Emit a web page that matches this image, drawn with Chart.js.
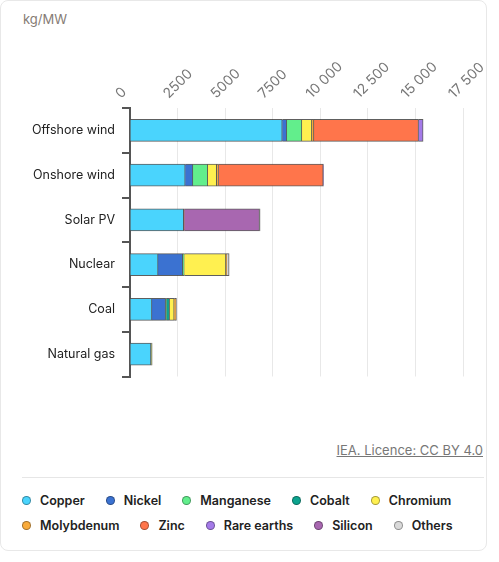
<!DOCTYPE html>
<html>
<head>
<meta charset="utf-8">
<script src="https://cdn.jsdelivr.net/npm/chart.js@4"></script>
<style>
  body { margin: 0; background: #fff; font-family: Inter, "Noto Sans", sans-serif; }
  #card { position: absolute; left: 0; top: 0; width: 485px; height: 549px; border: 1px solid #e8e8e8; border-radius: 8px; overflow: hidden; }
  #unit { position: absolute; left: 22px; top: 10px; font-size: 13px; color: #857b74; }
  #wrap { position: absolute; left: 0; top: 0; width: 486px; height: 390px; }
  #fonte { position: absolute; right: 3px; top: 441px; font-size: 13px; color: #777; text-decoration: underline; }
  #sep { position: absolute; left: 21px; width: 462px; top: 476px; border-top: 1px solid #e6e6e6; }
  #legenda { position: absolute; left: 21px; top: 492px; width: 470px; font-size: 12.5px; font-weight: 600; color: #222; }
  .riga { height: 25px; white-space: nowrap; }
  .voce { display: inline-block; margin-right: 21px; }
  .pallino { display: inline-block; width: 9px; height: 9px; border-radius: 50%; margin-right: 9px; vertical-align: 0px; box-sizing: border-box; border: 1px solid rgba(0,0,0,0.35); }
</style>
</head>
<body>
<div id="card">
  <div id="unit">kg/MW</div>
  <div id="wrap"><canvas id="grafico"></canvas></div>
  <div id="fonte">IEA. Licence: CC BY 4.0</div>
  <div id="sep"></div>
  <div id="legenda"></div>
</div>
<script>
// Dati (kg/MW)
const tecnologie = ['Offshore wind', 'Onshore wind', 'Solar PV', 'Nuclear', 'Coal', 'Natural gas'];
const minerali = ['Copper', 'Nickel', 'Manganese', 'Cobalt', 'Chromium', 'Molybdenum', 'Zinc', 'Rare earths', 'Silicon', 'Others'];
const colori = ['#4ad4fd', '#3b72d1', '#62ee8c', '#0ca38e', '#fff050', '#f9ab3c', '#ff754b', '#a47ae8', '#a867b0', '#d9d9d9'];

const copper = [8000, 2900, 2822, 1473, 1150, 1100];
const nickel = [240, 404, 0, 1297, 721, 16];
const manganese = [790, 780, 0, 80, 50, 0];
const cobalt = [0, 0, 0, 0, 160, 0];
const chromium = [525, 470, 0, 2190, 240, 48];
const molybdenum = [109, 99, 0, 50, 120, 0];
const zinc = [5500, 5500, 30, 0, 0, 0];
const rareEarths = [239, 14, 0, 0, 0, 0];
const silicon = [0, 0, 3955, 0, 0, 0];
const others = [0, 0, 30, 120, 0, 0];
const valori = [copper, nickel, manganese, cobalt, chromium, molybdenum, zinc, rareEarths, silicon, others];

const tickX = [0, 2500, 5000, 7500, 10000, 12500, 15000, 17500];

function formattaNumero(v) {
    if (v >= 10000) return String(v).replace(/\B(?=(\d{3})+(?!\d))/g, ' ');
    return String(v);
}

// Legenda in HTML
const legenda = document.getElementById('legenda');
[[0, 5], [5, 10]].forEach(([da, a]) => {
    const riga = document.createElement('div');
    riga.className = 'riga';
    for (let i = da; i < a; i++) {
        riga.innerHTML += `<span class="voce"><span class="pallino" style="background:${colori[i]}"></span>${minerali[i]}</span>`;
    }
    legenda.appendChild(riga);
});

const datasets = minerali.map((nome, i) => ({
    label: nome,
    data: valori[i],
    backgroundColor: colori[i],
    borderColor: 'rgba(40,40,40,0.75)',
    borderWidth: 1,
    barThickness: 22
}));

new Chart(document.getElementById('grafico'), {
    type: 'bar',
    data: { labels: tecnologie, datasets },
    options: {
        indexAxis: 'y',
        responsive: true,
        maintainAspectRatio: false,
        animation: false,
        layout: { padding: { left: 0, right: 24, top: 0, bottom: 10 } },
        plugins: { legend: { display: false }, tooltip: { enabled: false } },
        scales: {
            x: {
                position: 'top',
                stacked: true,
                min: 0,
                max: 17500,
                afterBuildTicks: s => { s.ticks = tickX.map(v => ({ value: v })); },
                afterFit: s => { s.paddingLeft = 0; s.paddingRight = 0; s.height = 107; },
                ticks: {
                    minRotation: 45,
                    maxRotation: 45,
                    padding: 6,
                    color: '#777',
                    font: { family: 'Inter', size: 14 },
                    callback: v => formattaNumero(v)
                },
                grid: { color: '#e8e8e8', drawTicks: false },
                border: { display: false }
            },
            y: {
                stacked: true,
                afterFit: s => { s.width = 129; },
                ticks: { color: '#222', padding: 7, font: { family: 'Inter', size: 12.5 } },
                grid: { offset: true, drawOnChartArea: false, color: '#555', tickLength: 8, lineWidth: 2 },
                border: { color: '#555', width: 2 }
            }
        }
    }
});
</script>
</body>
</html>
